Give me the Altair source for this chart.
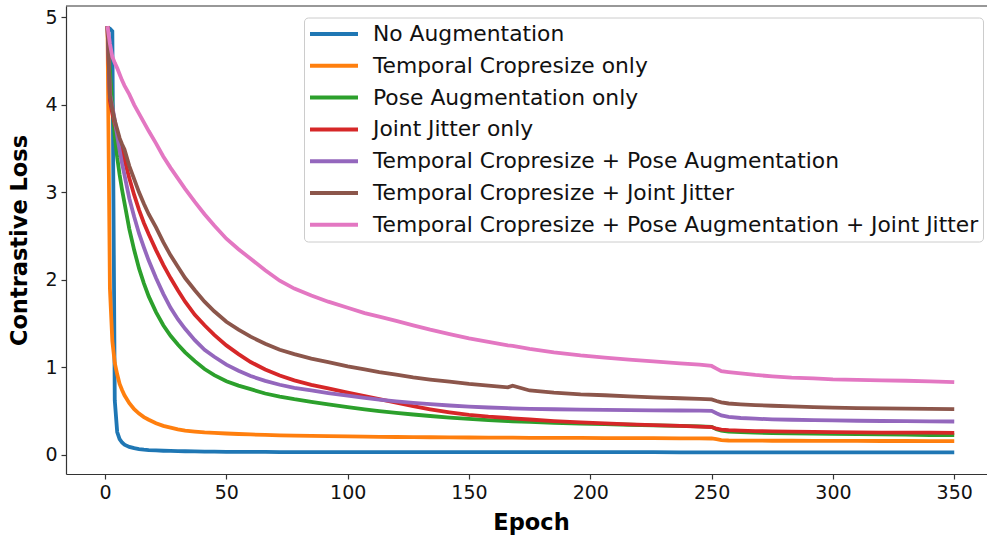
import altair as alt
import pandas as pd

epochs = [1, 2, 3, 4, 5, 6, 7, 8, 10, 12, 14, 16, 18, 21, 24, 27, 30, 33, 37, 41, 45, 50, 55,
          60, 66, 72, 78, 85, 92, 100, 107, 113, 120, 127, 134, 142, 150, 158, 166, 168, 175,
          185, 196, 206, 216, 226, 237, 245, 250, 252, 254, 257, 262, 268, 275, 283, 292, 300,
          310, 320, 330, 340, 350]

series_names = [
    "No Augmentation",
    "Temporal Cropresize only",
    "Pose Augmentation only",
    "Joint Jitter only",
    "Temporal Cropresize + Pose Augmentation",
    "Temporal Cropresize + Joint Jitter",
    "Temporal Cropresize + Pose Augmentation + Joint Jitter",
]
colors = ["#1f77b4", "#ff7f0e", "#2ca02c", "#d62728", "#9467bd", "#8c564b", "#e377c2"]

no_aug = [4.88, 4.87, 4.84, 0.62, 0.26, 0.18, 0.14, 0.115,
          0.09, 0.075, 0.065, 0.058, 0.053,
          0.049, 0.046, 0.044, 0.042, 0.040,
          0.038, 0.036, 0.035, 0.034, 0.033,
          0.032, 0.032, 0.031, 0.031, 0.031,
          0.030, 0.030, 0.030, 0.030, 0.030,
          0.030, 0.029, 0.029, 0.029, 0.029,
          0.029, 0.029, 0.029, 0.029, 0.029,
          0.029, 0.029, 0.029, 0.028, 0.028,
          0.028, 0.028, 0.028, 0.028, 0.028,
          0.028, 0.028, 0.028, 0.028, 0.028,
          0.028, 0.028, 0.028, 0.028, 0.028]
crop_only = [4.9, 1.9, 1.3, 1.05, 0.92, 0.81, 0.74, 0.68,
             0.59, 0.52, 0.47, 0.43, 0.40,
             0.36, 0.33, 0.31, 0.29, 0.275,
             0.265, 0.255, 0.25, 0.243, 0.237,
             0.232, 0.227, 0.222, 0.219, 0.216,
             0.213, 0.21, 0.207, 0.205, 0.203,
             0.201, 0.2, 0.198, 0.197, 0.196,
             0.195, 0.195, 0.194, 0.193, 0.192,
             0.191, 0.19, 0.189, 0.188, 0.187,
             0.186, 0.178, 0.168, 0.163, 0.162,
             0.161, 0.16, 0.16, 0.159, 0.158,
             0.158, 0.157, 0.157, 0.156, 0.156]
pose_only = [4.9, 4.4, 4.0, 3.64, 3.4, 3.2, 3.03, 2.88,
             2.58, 2.34, 2.13, 1.96, 1.81,
             1.63, 1.48, 1.36, 1.26, 1.17,
             1.07, 0.98, 0.91, 0.84, 0.79,
             0.75, 0.70, 0.665, 0.635, 0.605,
             0.575, 0.545, 0.52, 0.50, 0.478,
             0.46, 0.443, 0.425, 0.41, 0.397,
             0.385, 0.383, 0.375, 0.365, 0.357,
             0.35, 0.343, 0.337, 0.331, 0.325,
             0.32, 0.293, 0.275, 0.265, 0.258,
             0.252, 0.248, 0.245, 0.242, 0.239,
             0.235, 0.232, 0.229, 0.226, 0.224]
jitter_only = [4.9, 4.05, 3.9, 3.78, 3.68, 3.58, 3.47, 3.37,
               3.16, 2.97, 2.8, 2.65, 2.52,
               2.34, 2.17, 2.02, 1.88, 1.75,
               1.6, 1.48, 1.37, 1.25, 1.15,
               1.06, 0.975, 0.905, 0.85, 0.80,
               0.76, 0.71, 0.67, 0.635, 0.595,
               0.555, 0.52, 0.485, 0.455, 0.435,
               0.42, 0.417, 0.403, 0.385, 0.37,
               0.358, 0.348, 0.339, 0.33, 0.322,
               0.317, 0.298, 0.287, 0.281, 0.276,
               0.271, 0.267, 0.264, 0.261, 0.258,
               0.256, 0.254, 0.253, 0.252, 0.251]
crop_pose = [4.9, 4.13, 3.98, 3.83, 3.65, 3.48, 3.33, 3.2,
             2.93, 2.72, 2.53, 2.37, 2.22,
             2.02, 1.84, 1.68, 1.55, 1.44,
             1.31, 1.2, 1.12, 1.03, 0.96,
             0.9, 0.845, 0.8, 0.765, 0.735,
             0.705, 0.675, 0.65, 0.63, 0.61,
             0.593, 0.578, 0.563, 0.55, 0.54,
             0.532, 0.53, 0.525, 0.52, 0.516,
             0.513, 0.51, 0.508, 0.506, 0.505,
             0.502, 0.475, 0.45, 0.432, 0.42,
             0.412, 0.405, 0.4, 0.396, 0.392,
             0.389, 0.386, 0.384, 0.382, 0.38]
crop_jitter = [4.9, 4.1, 3.95, 3.82, 3.72, 3.62, 3.55, 3.49,
               3.3, 3.15, 3.0, 2.87, 2.75,
               2.6, 2.43, 2.28, 2.15, 2.02,
               1.88, 1.75, 1.64, 1.52, 1.43,
               1.35, 1.27, 1.2, 1.15, 1.1,
               1.06, 1.01, 0.975, 0.945, 0.915,
               0.885, 0.86, 0.835, 0.81, 0.79,
               0.77, 0.79, 0.735, 0.71, 0.69,
               0.68, 0.668, 0.657, 0.646, 0.638,
               0.632, 0.614, 0.6, 0.586, 0.576,
               0.567, 0.56, 0.552, 0.544, 0.538,
               0.533, 0.53, 0.527, 0.524, 0.521]
all_aug = [4.9, 4.7, 4.55, 4.48, 4.42, 4.35, 4.28, 4.22,
           4.12, 4.0, 3.9, 3.8, 3.7,
           3.56, 3.41, 3.28, 3.16, 3.04,
           2.89, 2.75, 2.62, 2.47, 2.35,
           2.24, 2.11, 1.99, 1.9, 1.82,
           1.75, 1.68, 1.62, 1.58, 1.53,
           1.48, 1.43, 1.38, 1.33, 1.29,
           1.25, 1.245, 1.21, 1.17, 1.135,
           1.11, 1.088, 1.068, 1.045, 1.03,
           1.015, 0.985, 0.955, 0.945, 0.93,
           0.912, 0.897, 0.882, 0.872, 0.862,
           0.856, 0.851, 0.846, 0.84, 0.83]

all_series = [no_aug, crop_only, pose_only, jitter_only, crop_pose, crop_jitter, all_aug]

rows = []
for i, (name, vals) in enumerate(zip(series_names, all_series)):
    for e, v in zip(epochs, vals):
        rows.append({"Epoch": e, "Loss": v, "Series": name, "idx": i})
df = pd.DataFrame(rows)

FONT = "DejaVu Sans"
W, H = 921, 468

lines = alt.Chart(df).mark_line(strokeWidth=3.8, clip=True).encode(
    x=alt.X("Epoch:Q",
            scale=alt.Scale(domain=[-16.1, 363.5], nice=False, zero=False),
            axis=alt.Axis(values=[0, 50, 100, 150, 200, 250, 300, 350], title="Epoch",
                          titleX=465, titleY=55, titleAlign="center",
                          titleBaseline="alphabetic")),
    y=alt.Y("Loss:Q",
            scale=alt.Scale(domain=[-0.22, 5.13], nice=False, zero=False),
            axis=alt.Axis(values=[0, 1, 2, 3, 4, 5], title="Contrastive Loss",
                          titleX=-40, titleY=234, titleAlign="center",
                          titleBaseline="alphabetic", titleAngle=270)),
    color=alt.Color("Series:N",
                    scale=alt.Scale(domain=series_names, range=colors),
                    sort=series_names,
                    legend=alt.Legend(orient="none", legendX=238, legendY=11.5, title=None,
                                      labelFontSize=21.8, labelFont=FONT, labelColor="#111111",
                                      symbolType="stroke", symbolSize=2304,
                                      symbolStrokeWidth=4, clipHeight=25, rowPadding=6.8,
                                      padding=4, labelOffset=13, symbolOffset=0,
                                      fillColor="white", strokeColor="#cccccc",
                                      cornerRadius=4, labelLimit=1000)),
    detail="idx:O",
    order="Epoch:Q",
)

top = alt.Chart(alt.Data(values=[{"a": 0}])).mark_rule(color="#333333", strokeWidth=1.2).encode(
    x=alt.value(0), x2=alt.value(W), y=alt.value(0)
)

chart = alt.layer(lines, top).properties(
    width=W, height=H,
    padding={"left": 66, "top": 6, "right": 0, "bottom": 61},
    autosize=alt.AutoSizeParams(type="none"),
).configure_view(strokeOpacity=0).configure_axis(
    labelFont=FONT, labelFontSize=19, labelColor="#111111",
    titleFont=FONT, titleFontSize=22.5, titleFontWeight="bold", titleColor="#000000",
    domainColor="#333333", domainWidth=1.2, tickColor="#333333", tickWidth=1.2,
    tickSize=5, labelPadding=4, grid=False,
)

chart.save("out.html", embed_options={"renderer": "svg", "actions": False})
